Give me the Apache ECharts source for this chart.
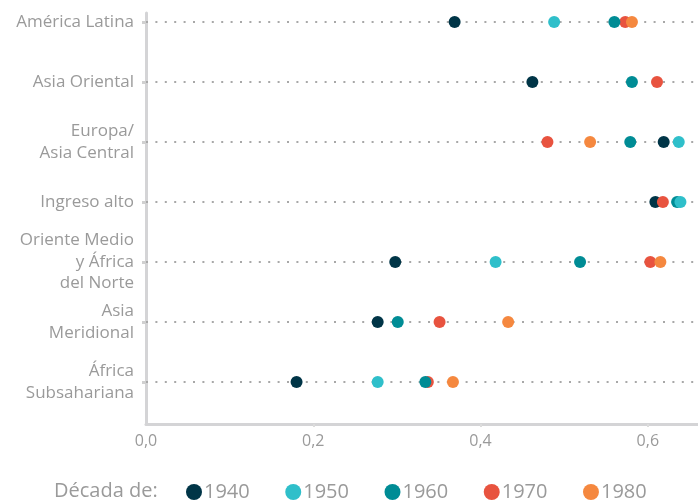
<!DOCTYPE html>
<html>
<head>
<meta charset="utf-8">
<script src="https://cdn.jsdelivr.net/npm/echarts@6/dist/echarts.min.js"></script>
<style>html,body{margin:0;padding:0;background:#fff}#c{width:698px;height:500px}</style>
</head>
<body>
<div id="c"></div>
<script>
const categories = ["América Latina", "Asia Oriental", "Europa/\nAsia Central", "Ingreso alto", "Oriente Medio\ny África\ndel Norte", "Asia\nMeridional", "África\nSubsahariana"];
const decades = ["1940", "1950", "1960", "1970", "1980"];
const colors = {"1940": "#003547", "1950": "#2fbfca", "1960": "#008c95", "1970": "#e8533f", "1980": "#f5883f"};
const v1940 = [0.369, 0.462, 0.619, 0.609, 0.298, 0.277, 0.180];
const v1950 = [0.488, null, 0.637, 0.639, 0.418, null, 0.277];
const v1960 = [0.560, 0.581, 0.579, 0.635, 0.519, 0.301, 0.334];
const v1970 = [0.573, 0.611, 0.480, 0.618, 0.603, 0.351, 0.337];
const v1980 = [0.581, null, 0.531, null, 0.615, 0.433, 0.367];
const xTicks = [0, 0.2, 0.4, 0.6];

const values = {"1940": v1940, "1950": v1950, "1960": v1960, "1970": v1970, "1980": v1980};
const drawOrder = ["1940", "1970", "1960", "1950", "1980"];
const txt = '#9a9a9a';
const font = 'Open Sans';

function pts(arr) {
  const out = [];
  arr.forEach((v, i) => { if (v !== null) out.push([v, i]); });
  return out;
}

const series = [{
  type: 'line', name: 'guides', data: [], silent: true, z: 1,
  markLine: {
    silent: true, symbol: 'none', label: {show: false}, z: 1,
    lineStyle: {color: '#a8a8a8', type: [2, 7.4], width: 2},
    data: categories.map((c, i) => ({yAxis: i}))
  }
}];
drawOrder.forEach(d => {
  series.push({
    type: 'scatter', name: d, data: pts(values[d]), symbol: 'circle', symbolSize: 12,
    itemStyle: {color: colors[d], opacity: 1}, z: 6
  });
});

const chart = echarts.init(document.getElementById('c'), null, {renderer: 'canvas'});
chart.setOption({
  animation: false,
  title: {text: 'Década de:', left: 49, top: 476, textStyle: {color: txt, fontFamily: font, fontSize: 20, fontWeight: 'normal'}},
  legend: {
    data: decades, left: 181, top: 477, icon: 'circle', itemWidth: 16, itemHeight: 16, itemGap: 35.5,
    textStyle: {color: txt, fontFamily: font, fontSize: 20, padding: [0, 0, 0, -3]}
  },
  grid: {left: 146, right: 0, top: 13, bottom: 76},
  xAxis: {
    type: 'value', min: 0, max: 0.66, interval: 0.2,
    axisLine: {show: true, onZero: false, lineStyle: {color: '#d4d4d6', width: 3}},
    axisTick: {show: true, length: 3, lineStyle: {color: '#dcdcdc', width: 2}, customValues: [0.2, 0.4, 0.6]},
    splitLine: {show: false},
    axisLabel: {color: txt, fontFamily: font, fontSize: 16, margin: 9, customValues: xTicks, formatter: v => v.toFixed(1).replace('.', ',')}
  },
  yAxis: {
    type: 'value', inverse: true, min: -0.15, max: 6.7,
    axisLine: {show: true, onZero: false, lineStyle: {color: '#d4d4d6', width: 3}},
    axisTick: {show: true, length: 4, lineStyle: {color: '#d0d0d0', width: 3}, customValues: categories.map((c, i) => i)},
    splitLine: {show: false},
    axisLabel: {color: txt, fontFamily: font, fontSize: 17, lineHeight: 21.5, align: 'right', margin: 12,
      customValues: categories.map((c, i) => i), formatter: v => categories[Math.round(v)]}
  },
  series: series
});
</script>
</body>
</html>
